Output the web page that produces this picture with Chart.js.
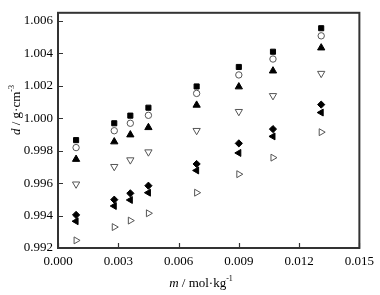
<!DOCTYPE html>
<html>
<head>
<meta charset="utf-8">
<script src="https://cdn.jsdelivr.net/npm/chart.js@4/dist/chart.umd.min.js"></script>
<style>
  html, body { margin: 0; padding: 0; background: #fff; }
  #wrap { width: 380px; height: 295px; }
</style>
</head>
<body>
<div id="wrap"><canvas id="densCanvas"></canvas></div>
<script>
// molality (mol/kg)
var molality = [0.0009, 0.0028, 0.0036, 0.0045, 0.0069, 0.0090, 0.0107, 0.0131];

// density (g/cm3), one array per series
var sqFilled   = [0.99865, 0.99969, 1.00016, 1.00065, 1.00196, 1.00316, 1.00410, 1.00555];
var circOpen   = [0.99819, 0.99923, 0.99969, 1.00018, 1.00153, 1.00267, 1.00365, 1.00508];
var triUp      = [0.99747, 0.99855, 0.99898, 0.99943, 1.00081, 1.00194, 1.00292, 1.00434];
var triDownOpen= [0.99594, 0.99702, 0.99743, 0.99792, 0.99924, 1.00041, 1.00139, 1.00276];
var diamond    = [0.99404, 0.99498, 0.99537, 0.99584, 0.99718, 0.99845, 0.99933, 1.00084];
var triLeft    = [0.99365, 0.99459, 0.99496, 0.99541, 0.99678, 0.99786, 0.99888, 1.00035];
var triRightOpen=[0.99247, 0.99329, 0.99369, 0.99414, 0.99541, 0.99655, 0.99757, 0.99914];

var xTicks = [0.000, 0.003, 0.006, 0.009, 0.012, 0.015];
var yTicks = [0.992, 0.994, 0.996, 0.998, 1.000, 1.002, 1.004, 1.006];

var serif = "'Liberation Serif', 'Times New Roman', serif";

function pts(ys) {
    return molality.map(function(m, i) { return {x: m, y: ys[i]}; });
}

function series(label, ys, style, rot, radius, filled) {
    return {
        label: label,
        data: pts(ys),
        showLine: false,
        pointStyle: style,
        rotation: rot,
        pointRadius: radius,
        pointHoverRadius: radius,
        pointBorderWidth: 1,
        pointBackgroundColor: filled ? '#000' : '#fff',
        pointBorderColor: filled ? '#000' : '#555'
    };
}

// frame, inward ticks and axis titles
var framePlugin = {
    id: 'frame',
    afterDraw: function(chart) {
        var ctx = chart.ctx, a = chart.chartArea;
        var xs = chart.scales.x, ys = chart.scales.y;
        ctx.save();
        ctx.strokeStyle = '#333';
        ctx.lineWidth = 2;
        ctx.strokeRect(a.left, a.top, a.right - a.left, a.bottom - a.top);
        ctx.lineWidth = 1.2;
        ctx.beginPath();
        xTicks.forEach(function(v) {
            var px = Math.round(xs.getPixelForValue(v)) + 0.5;
            ctx.moveTo(px, a.bottom);
            ctx.lineTo(px, a.bottom - 5);
        });
        yTicks.forEach(function(v) {
            var py = Math.round(ys.getPixelForValue(v)) + 0.5;
            ctx.moveTo(a.left, py);
            ctx.lineTo(a.left + 5, py);
        });
        ctx.stroke();

        ctx.fillStyle = '#000';
        ctx.textBaseline = 'alphabetic';
        // x title
        var parts = [
            ['italic 13px ' + serif, 'm', 0],
            ['13px ' + serif, ' / mol\u00b7kg', 0],
            ['8px ' + serif, '-1', -6]
        ];
        var total = 0;
        parts.forEach(function(p) { ctx.font = p[0]; total += ctx.measureText(p[1]).width; });
        var x0 = 201 - total / 2, base = 287;
        parts.forEach(function(p) {
            ctx.font = p[0];
            ctx.fillText(p[1], x0, base + p[2]);
            x0 += ctx.measureText(p[1]).width;
        });
        // y title
        ctx.translate(20, 110);
        ctx.rotate(-Math.PI / 2);
        var yparts = [
            ['italic 13px ' + serif, 'd', 0],
            ['13px ' + serif, ' / g\u00b7cm', 0],
            ['8px ' + serif, '-3', -6]
        ];
        total = 0;
        yparts.forEach(function(p) { ctx.font = p[0]; total += ctx.measureText(p[1]).width; });
        x0 = -total / 2;
        yparts.forEach(function(p) {
            ctx.font = p[0];
            ctx.fillText(p[1], x0, p[2]);
            x0 += ctx.measureText(p[1]).width;
        });
        ctx.restore();
    }
};

const ctxDens = document.getElementById('densCanvas').getContext('2d');
const chartDens = new Chart(ctxDens, {
    type: 'scatter',
    data: {
        datasets: [
            series('s1', sqFilled, 'rect', 0, 3.6, true),
            series('s2', circOpen, 'circle', 0, 3.2, false),
            series('s3', triUp, 'triangle', 0, 4.2, true),
            series('s4', triDownOpen, 'triangle', 180, 4.2, false),
            series('s5', diamond, 'rectRot', 0, 3.6, true),
            series('s6', triLeft, 'triangle', -90, 4.0, true),
            series('s7', triRightOpen, 'triangle', 90, 4.0, false)
        ]
    },
    options: {
        responsive: true,
        maintainAspectRatio: false,
        animation: false,
        events: [],
        layout: { padding: { top: 3, right: 16, left: 0, bottom: 0 } },
        plugins: {
            legend: { display: false },
            tooltip: { enabled: false }
        },
        scales: {
            x: {
                type: 'linear',
                min: 0,
                max: 0.015,
                grid: { display: false, drawTicks: false },
                border: { display: false },
                afterBuildTicks: function(scale) {
                    scale.ticks = xTicks.map(function(v) { return {value: v}; });
                },
                afterFit: function(scale) { scale.height = 47; },
                ticks: {
                    padding: 6,
                    color: '#000',
                    maxRotation: 0,
                    font: { family: serif, size: 13 },
                    callback: function(v) { return v.toFixed(3); }
                }
            },
            y: {
                type: 'linear',
                min: 0.992,
                max: 1.0065,
                grid: { display: false, drawTicks: false },
                border: { display: false },
                afterBuildTicks: function(scale) {
                    scale.ticks = yTicks.map(function(v) { return {value: v}; });
                },
                afterFit: function(scale) { scale.width = 58; },
                ticks: {
                    padding: 5,
                    color: '#000',
                    font: { family: serif, size: 13 },
                    callback: function(v) { return v.toFixed(3); }
                }
            }
        }
    },
    plugins: [framePlugin]
});
</script>
</body>
</html>
